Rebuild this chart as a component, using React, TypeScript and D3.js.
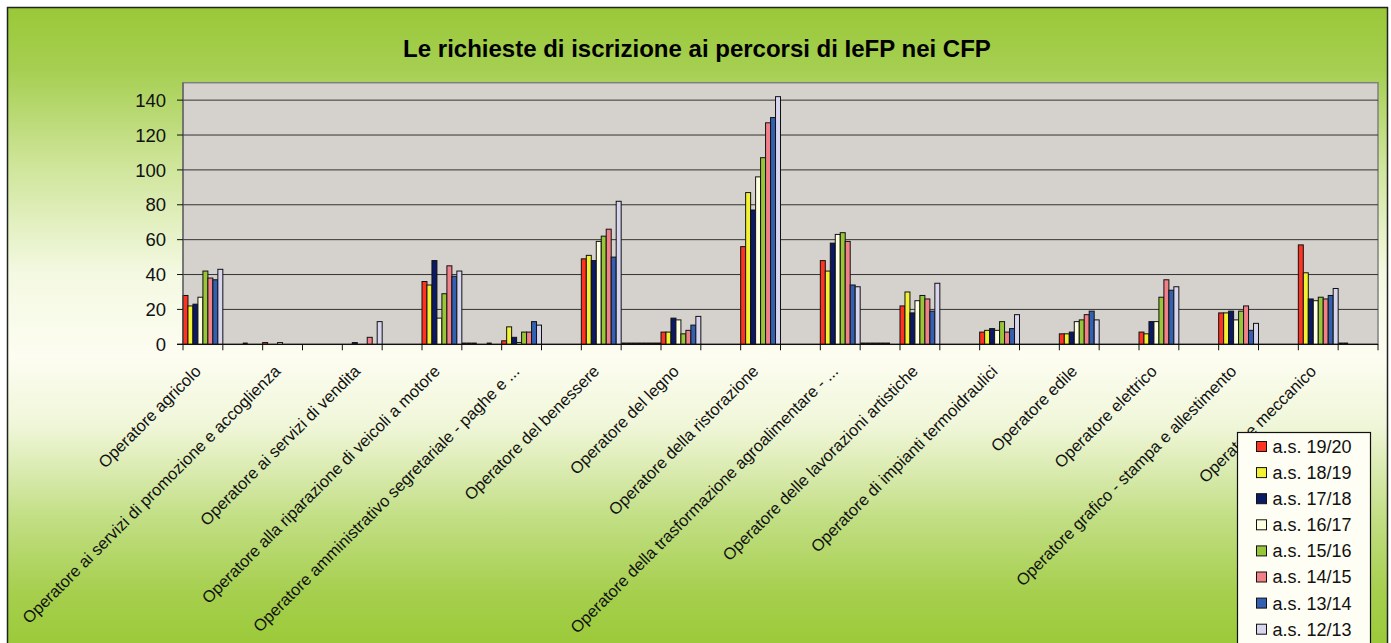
import React from "react";
import * as d3 from "d3";

const n = null;

const categories: string[] = [
  "Operatore agricolo", "",
  "Operatore ai servizi di promozione e accoglienza", "",
  "Operatore ai servizi di vendita", "",
  "Operatore alla riparazione di veicoli a motore", "",
  "Operatore amministrativo segretariale - paghe e ...", "",
  "Operatore del benessere", "",
  "Operatore del legno", "",
  "Operatore della ristorazione", "",
  "Operatore della trasformazione agroalimentare - ...", "",
  "Operatore delle lavorazioni artistiche", "",
  "Operatore di impianti termoidraulici", "",
  "Operatore edile", "",
  "Operatore elettrico", "",
  "Operatore grafico - stampa e allestimento", "",
  "Operatore meccanico", "",
];

const s1920 = [28, n, 1, n, n, n, 36, 0, 2, n, 49, 0, 7, n, 56, n, 48, 0, 22, n, 7, n, 6, n, 7, n, 18, n, 57, 0];
const s1819 = [22, n, n, n, n, n, 34, 0, 10, n, 51, 0, 7, n, 87, n, 42, 0, 30, n, 8, n, 6, n, 6, n, 18, n, 41, 0];
const s1718 = [23, n, n, n, 1, n, 48, 0, 4, n, 48, 0, 15, n, 77, n, 58, 0, 18, n, 9, n, 7, n, 13, n, 19, n, 26, n];
const s1617 = [27, n, 1, n, n, n, 15, n, 1, n, 59, 0, 14, n, 96, n, 63, 0, 25, n, 8, n, 13, n, 13, n, 14, n, 25, n];
const s1516 = [42, 0, n, n, n, n, 29, n, 7, n, 62, 0, 6, n, 107, n, 64, 0, 28, n, 13, n, 14, n, 27, n, 19, n, 27, n];
const s1415 = [38, n, n, n, 4, n, 45, 0, 7, n, 66, 0, 8, n, 127, n, 59, 0, 26, n, 7, n, 17, n, 37, n, 22, n, 26, n];
const s1314 = [37, n, n, n, n, n, 39, n, 13, n, 50, 0, 11, n, 130, n, 34, n, 19, n, 9, n, 19, n, 31, n, 8, n, 28, n];
const s1213 = [43, n, n, n, 13, n, 42, n, 11, n, 82, 0, 16, n, 142, n, 33, n, 35, n, 17, n, 14, n, 33, n, 12, n, 32, n];

const seriesNames = ["a.s. 19/20", "a.s. 18/19", "a.s. 17/18", "a.s. 16/17", "a.s. 15/16", "a.s. 14/15", "a.s. 13/14", "a.s. 12/13"];
const seriesColors = ["#FF3322", "#F2F233", "#0C1A66", "#FFFFE2", "#99C638", "#F28088", "#3360B0", "#D8D6EE"];
const seriesValues = [s1920, s1819, s1718, s1617, s1516, s1415, s1314, s1213];
const yTicks = [0, 20, 40, 60, 80, 100, 120, 140];

const W = 1391;
const H = 643;
const FONT = "'Liberation Sans', Arial, sans-serif";

export default function App() {
  const plotL = 183, plotR = 1378, plotT = 82.7, plotB = 344.3;
  const x = d3.scaleBand<number>().domain(categories.map((_, i) => i)).range([plotL, plotR]).padding(0);
  const xs = d3.scaleBand<number>().domain(seriesNames.map((_, i) => i)).range([0, x.bandwidth()]).padding(0);
  const y = d3.scaleLinear().domain([0, 150]).range([plotB, plotT]);

  const legX = 1237.5, legY = 432.5, legW = 133, rowH = 26.1;

  return (
    <svg width={W} height={H} style={{ position: "absolute", left: 0, top: 0 }} fontFamily={FONT}>
      <defs>
        <linearGradient id="bg" gradientUnits="userSpaceOnUse" x1="0" y1="7" x2="0" y2="643">
          <stop offset="0" stopColor="#9AC838" />
          <stop offset="0.1" stopColor="#A6CF52" />
          <stop offset="0.25" stopColor="#CFE59A" />
          <stop offset="0.42" stopColor="#F4F9E2" />
          <stop offset="0.55" stopColor="#FDFDF1" />
          <stop offset="0.66" stopColor="#EFF6D8" />
          <stop offset="0.8" stopColor="#C3DF86" />
          <stop offset="0.92" stopColor="#A6CF4E" />
          <stop offset="1" stopColor="#9CCA3A" />
        </linearGradient>
      </defs>
      <rect x={7.5} y={7.5} width={1380} height={660} fill="url(#bg)" stroke="#222" strokeWidth={1.5} />
      <text x={697} y={57} textAnchor="middle" fontSize={24} fontWeight="bold" fill="#000">
        Le richieste di iscrizione ai percorsi di IeFP nei CFP
      </text>

      {/* plot area */}
      <rect x={plotL} y={plotT} width={plotR - plotL} height={plotB - plotT} fill="#D5D2CD" stroke="#808080" strokeWidth={1.5} />
      {yTicks.filter((t) => t > 0).map((t) => (
        <line key={"g" + t} x1={plotL} x2={plotR} y1={y(t)} y2={y(t)} stroke="#333" strokeWidth={1} />
      ))}

      {/* bars */}
      {seriesValues.map((vals, si) =>
        vals.map((v, ci) => {
          if (v === null) return null;
          const bx = (x(ci) as number) + (xs(si) as number);
          const bw = xs.bandwidth();
          if (v === 0) {
            return <line key={si + "-" + ci} x1={bx} x2={bx + bw} y1={y(0) - 1} y2={y(0) - 1} stroke="#111" strokeWidth={1.5} />;
          }
          return (
            <rect key={si + "-" + ci} x={bx} y={y(v)} width={bw} height={y(0) - y(v)} fill={seriesColors[si]} stroke="#111" strokeWidth={1} />
          );
        })
      )}

      {/* axes */}
      <line x1={plotL} x2={plotL} y1={plotT} y2={plotB} stroke="#555" strokeWidth={1} />
      <line x1={plotL - 6} x2={plotR} y1={plotB} y2={plotB} stroke="#111" strokeWidth={1.2} />
      {yTicks.map((t) => (
        <g key={"yt" + t}>
          <line x1={plotL - 6} x2={plotL} y1={y(t)} y2={y(t)} stroke="#111" />
          <text x={plotL - 17} y={y(t)} dy="0.36em" textAnchor="end" fontSize={18.5} fill="#111">{t}</text>
        </g>
      ))}
      {categories.map((_, i) => (
        <line key={"xt" + i} x1={x(i) as number} x2={x(i) as number} y1={plotB} y2={plotB + 6} stroke="#111" />
      ))}
      <line x1={plotR} x2={plotR} y1={plotB} y2={plotB + 6} stroke="#111" />
      {categories.map((c, i) =>
        c ? (
          <text
            key={"cl" + i}
            transform={`translate(${(x(i) as number) + x.bandwidth() / 2 - 1},${plotB + 28}) rotate(-45)`}
            textAnchor="end"
            fontSize={16.5}
            fill="#111"
          >
            {c}
          </text>
        ) : null
      )}

      {/* legend */}
      <rect x={legX} y={legY} width={legW} height={215} fill="#FEFEF4" stroke="#111" strokeWidth={1.2} />
      {seriesNames.map((s, i) => (
        <g key={"lg" + i} transform={`translate(${legX + 19},${legY + 14 + i * rowH})`}>
          <rect x={0} y={-5} width={10} height={10} fill={seriesColors[i]} stroke="#111" strokeWidth={1} />
          <text x={16} y={0} dy="0.36em" fontSize={18} fill="#111">{s}</text>
        </g>
      ))}
    </svg>
  );
}
